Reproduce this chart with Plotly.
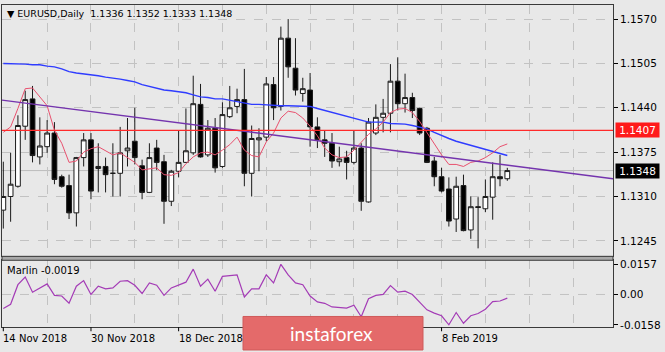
import plotly.graph_objects as go
from datetime import datetime

# ---------------- data ----------------
dates = [
    "2018-11-14", "2018-11-15", "2018-11-16", "2018-11-19", "2018-11-20", "2018-11-21", "2018-11-22",
    "2018-11-23", "2018-11-26", "2018-11-27", "2018-11-28", "2018-11-29", "2018-11-30",
    "2018-12-03", "2018-12-04", "2018-12-05", "2018-12-06", "2018-12-07", "2018-12-10", "2018-12-11",
    "2018-12-12", "2018-12-13", "2018-12-14", "2018-12-17", "2018-12-18", "2018-12-19", "2018-12-20",
    "2018-12-21", "2018-12-24", "2018-12-26", "2018-12-27", "2018-12-28", "2018-12-31",
    "2019-01-02", "2019-01-03", "2019-01-04", "2019-01-07", "2019-01-08", "2019-01-09", "2019-01-10",
    "2019-01-11", "2019-01-14", "2019-01-15", "2019-01-16", "2019-01-17", "2019-01-18", "2019-01-21",
    "2019-01-22", "2019-01-23", "2019-01-24", "2019-01-25", "2019-01-28", "2019-01-29", "2019-01-30",
    "2019-01-31", "2019-02-01", "2019-02-04", "2019-02-05", "2019-02-06", "2019-02-07", "2019-02-08",
    "2019-02-11", "2019-02-12", "2019-02-13", "2019-02-14", "2019-02-15", "2019-02-18", "2019-02-19",
    "2019-02-20", "2019-02-21",
]

opens = [1.1290, 1.1310, 1.1325, 1.1413, 1.1453, 1.1368, 1.1383, 1.1403, 1.1339, 1.1326,
         1.1286, 1.1367, 1.1393, 1.1351, 1.1354, 1.1344, 1.1344, 1.1377, 1.1391, 1.1355,
         1.1316, 1.1381, 1.1361, 1.1303, 1.1347, 1.1360, 1.1374, 1.1445, 1.1371, 1.1410,
         1.1354, 1.1427, 1.1442, 1.1452, 1.1344, 1.1393, 1.1397, 1.1474, 1.1442, 1.1542,
         1.1498, 1.1461, 1.1466, 1.1412, 1.1393, 1.1388, 1.1361, 1.1367, 1.1360, 1.1381,
         1.1302, 1.1403, 1.1426, 1.1432, 1.1479, 1.1446, 1.1455, 1.1439, 1.1410, 1.1362,
         1.1339, 1.1321, 1.1277, 1.1326, 1.1261, 1.1295, 1.1292, 1.1309, 1.1339, 1.1336]
highs = [1.1361, 1.1374, 1.1429, 1.1465, 1.1472, 1.1426, 1.1422, 1.1419, 1.1342, 1.1342,
         1.1368, 1.1403, 1.1403, 1.1388, 1.1367, 1.1388, 1.1412, 1.1425, 1.1440, 1.1364,
         1.1388, 1.1393, 1.1371, 1.1349, 1.1407, 1.1439, 1.1487, 1.1475, 1.1422, 1.1425,
         1.1448, 1.1472, 1.1468, 1.1497, 1.1414, 1.1410, 1.1485, 1.1485, 1.1559, 1.1570,
         1.1542, 1.1484, 1.1491, 1.1426, 1.1407, 1.1403, 1.1383, 1.1377, 1.1407, 1.1388,
         1.1425, 1.1445, 1.1453, 1.1504, 1.1514, 1.1490, 1.1462, 1.1440, 1.1412, 1.1368,
         1.1352, 1.1338, 1.1339, 1.1342, 1.1310, 1.1309, 1.1335, 1.1360, 1.1371, 1.1352]
lows = [1.1263, 1.1273, 1.1323, 1.1393, 1.1360, 1.1357, 1.1374, 1.1328, 1.1323, 1.1277,
        1.1266, 1.1354, 1.1306, 1.1316, 1.1316, 1.1310, 1.1310, 1.1354, 1.1357, 1.1306,
        1.1315, 1.1349, 1.1270, 1.1296, 1.1338, 1.1359, 1.1371, 1.1367, 1.1368, 1.1345,
        1.1352, 1.1425, 1.1432, 1.1325, 1.1310, 1.1347, 1.1391, 1.1422, 1.1436, 1.1484,
        1.1458, 1.1449, 1.1383, 1.1381, 1.1368, 1.1352, 1.1354, 1.1335, 1.1357, 1.1289,
        1.1301, 1.1400, 1.1404, 1.1404, 1.1436, 1.1433, 1.1425, 1.1400, 1.1359, 1.1325,
        1.1316, 1.1266, 1.1258, 1.1259, 1.1248, 1.1234, 1.1287, 1.1276, 1.1325, 1.1333]
closes = [1.1310, 1.1328, 1.1414, 1.1452, 1.1370, 1.1384, 1.1403, 1.1335, 1.1325, 1.1286,
          1.1367, 1.1393, 1.1318, 1.1354, 1.1342, 1.1344, 1.1374, 1.1381, 1.1367, 1.1316,
          1.1367, 1.1360, 1.1303, 1.1347, 1.1360, 1.1377, 1.1446, 1.1368, 1.1410, 1.1352,
          1.1430, 1.1440, 1.1452, 1.1344, 1.1395, 1.1396, 1.1475, 1.1440, 1.1542, 1.1500,
          1.1466, 1.1468, 1.1412, 1.1393, 1.1388, 1.1362, 1.1365, 1.1360, 1.1381, 1.1303,
          1.1419, 1.1426, 1.1432, 1.1479, 1.1446, 1.1455, 1.1436, 1.1403, 1.1360, 1.1339,
          1.1318, 1.1274, 1.1325, 1.1260, 1.1295, 1.1294, 1.1310, 1.1339, 1.1336, 1.1348]

ma_slow = [1.1505, 1.1505, 1.1505, 1.1504, 1.1503, 1.1503, 1.1501, 1.1500, 1.1497, 1.1493,
           1.1491, 1.1490, 1.1488, 1.1487, 1.1485, 1.1484, 1.1482, 1.1480, 1.1478, 1.1474,
           1.1471, 1.1469, 1.1466, 1.1465, 1.1464, 1.1462, 1.1459, 1.1456, 1.1455, 1.1453,
           1.1453, 1.1451, 1.1449, 1.1448, 1.1445, 1.1445, 1.1444, 1.1443, 1.1443, 1.1443,
           1.1443, 1.1443, 1.1442, 1.1439, 1.1436, 1.1433, 1.1430, 1.1427, 1.1425, 1.1422,
           1.1419, 1.1419, 1.1419, 1.1417, 1.1417, 1.1416, 1.1414, 1.1412, 1.1409, 1.1404,
           1.1399, 1.1395, 1.1391, 1.1388, 1.1384, 1.1381, 1.1378, 1.1375, 1.1373, 1.1370]
ma_fast = [1.1404, 1.1412, 1.1439, 1.1468, 1.1469, 1.1456, 1.1443, 1.1407, 1.1388, 1.1360,
           1.1362, 1.1375, 1.1380, 1.1383, 1.1377, 1.1371, 1.1374, 1.1367, 1.1360, 1.1349,
           1.1351, 1.1352, 1.1342, 1.1341, 1.1345, 1.1358, 1.1368, 1.1374, 1.1375, 1.1371,
           1.1378, 1.1386, 1.1397, 1.1378, 1.1370, 1.1368, 1.1390, 1.1403, 1.1425, 1.1435,
           1.1433, 1.1425, 1.1413, 1.1399, 1.1381, 1.1371, 1.1367, 1.1368, 1.1378, 1.1390,
           1.1401, 1.1409, 1.1419, 1.1433, 1.1438, 1.1439, 1.1433, 1.1420, 1.1404, 1.1388,
           1.1371, 1.1357, 1.1357, 1.1354, 1.1360, 1.1362, 1.1367, 1.1374, 1.1383, 1.1387]
marlin = [-0.0073, -0.0051, 0.0051, 0.0091, 0.0012, 0.0034, 0.0055, -0.0005, -0.0008, -0.0046,
          0.0043, 0.0072, 0.0000, 0.0043, 0.0029, 0.0034, 0.0069, 0.0072, 0.0048, 0.0005,
          0.0060, 0.0048, -0.0005, 0.0034, 0.0048, 0.0064, 0.0132, 0.0043, 0.0080, 0.0017,
          0.0094, 0.0099, 0.0102, -0.0013, 0.0029, 0.0029, 0.0102, 0.0060, 0.0157, 0.0102,
          0.0060, 0.0051, -0.0008, -0.0039, -0.0046, -0.0065, -0.0068, -0.0071, -0.0056, -0.0116,
          -0.0022, -0.0005, 0.0000, 0.0046, 0.0012, 0.0017, 0.0000, -0.0039, -0.0080, -0.0097,
          -0.0111, -0.0158, -0.0094, -0.0150, -0.0111, -0.0099, -0.0077, -0.0037, -0.0034, -0.0019]

trend_idx = [0, 69]
trend_price = [1.1451, 1.1356]
level_price = 1.1407
price_ticks = [1.1245, 1.1310, 1.1375, 1.1440, 1.1505, 1.1570]
marlin_ticks = [0.0157, 0.0, -0.0158]
marlin_tick_text = ["0.0157", "0.00", "-0.0158"]
label_idx = [0, 12, 24, 60]
symbol = "EURUSD,Daily"
indicator_name = "Marlin"

# ---------------- layout helpers ----------------
W, H = 665, 352
def fx(p):
    return p / W
def fy(p):
    return 1 - p / H

n = len(dates)
idx = list(range(n))
x_range = [-0.18, 83.47]
y_range = [1.12223, 1.15907]
m_range = [-0.0171, 0.0178]

BG = "#e8e8e8"
GRID = "#c2c2c2"
BORDER = "#3a3a3a"
FONT = "DejaVu Sans"

fig = go.Figure()

fig.add_trace(go.Candlestick(
    x=idx, open=opens, high=highs, low=lows, close=closes,
    increasing=dict(line=dict(color="#1a1a1a", width=1), fillcolor="#ffffff"),
    decreasing=dict(line=dict(color="#1a1a1a", width=1), fillcolor="#000000"),
    whiskerwidth=0, xaxis="x", yaxis="y", hoverinfo="skip", showlegend=False))

fig.add_trace(go.Scatter(x=idx, y=ma_slow, mode="lines", line=dict(color="#2f3cff", width=1.4),
                         xaxis="x", yaxis="y", hoverinfo="skip"))
fig.add_trace(go.Scatter(x=idx, y=ma_fast, mode="lines", line=dict(color="#e8506e", width=1),
                         xaxis="x", yaxis="y", hoverinfo="skip"))

slope = (trend_price[1] - trend_price[0]) / (trend_idx[1] - trend_idx[0])
tx = [x_range[0], x_range[1]]
ty = [trend_price[0] + slope * (v - trend_idx[0]) for v in tx]
fig.add_trace(go.Scatter(x=tx, y=ty, mode="lines", line=dict(color="#7434ae", width=1.4),
                         xaxis="x", yaxis="y", hoverinfo="skip"))
fig.add_trace(go.Scatter(x=tx, y=[level_price, level_price], mode="lines",
                         line=dict(color="#ff2a2a", width=1.2), xaxis="x", yaxis="y", hoverinfo="skip"))

fig.add_trace(go.Scatter(x=idx, y=marlin, mode="lines", line=dict(color="#a43cb6", width=1.2),
                         xaxis="x2", yaxis="y2", hoverinfo="skip"))

grid_vals = list(range(6, 84, 6))
axis_common = dict(showline=True, mirror=True, linecolor=BORDER, linewidth=1, zeroline=False)

fig.update_layout(
    width=W, height=H, margin=dict(l=0, r=0, t=0, b=0),
    paper_bgcolor=BG, plot_bgcolor=BG, showlegend=False,
    font=dict(family=FONT, size=10, color="#000000"),
    boxgap=0.35, boxgroupgap=0,
    xaxis=dict(domain=[fx(2), fx(613)], range=x_range, anchor="y", tickmode="array",
               tickvals=grid_vals, showticklabels=False, ticks="", showgrid=True,
               gridcolor=GRID, griddash="dash", gridwidth=1, rangeslider=dict(visible=False),
               **axis_common),
    yaxis=dict(domain=[fy(258), fy(3)], range=y_range, anchor="x", side="right",
               tickmode="array", tickvals=price_ticks, tickformat=".4f", ticks="outside",
               ticklen=4, tickcolor="#000000", showgrid=True, gridcolor=GRID, griddash="dash",
               tickfont=dict(family=FONT, size=10.5, color="#000000"), **axis_common),
    xaxis2=dict(domain=[fx(2), fx(613)], range=x_range, anchor="y2", matches="x",
                tickmode="array", tickvals=grid_vals, showticklabels=False, ticks="",
                showgrid=True, gridcolor=GRID, griddash="dash", **axis_common),
    yaxis2=dict(domain=[fy(330), fy(262)], range=m_range, anchor="x2", side="right",
                tickmode="array", tickvals=marlin_ticks, ticktext=marlin_tick_text,
                ticks="outside", ticklen=4, tickcolor="#000000", showgrid=False,
                tickfont=dict(family=FONT, size=10.5, color="#000000"), **axis_common),
)

shapes = []
# bid line
shapes.append(dict(type="line", xref="x domain", x0=0, x1=1, yref="y", y0=closes[-1], y1=closes[-1],
                   line=dict(color="#bcbcbc", width=1), layer="below"))
# zero level in indicator window
shapes.append(dict(type="line", xref="x2 domain", x0=0, x1=1, yref="y2", y0=0, y1=0,
                   line=dict(color=GRID, width=1, dash="dash"), layer="below"))
# separator between windows
shapes.append(dict(type="rect", xref="paper", x0=fx(2), x1=fx(613), yref="paper", y0=fy(262), y1=fy(258),
                   fillcolor="#a9a9a9", line=dict(color=BORDER, width=1), layer="above"))
# date tick marks
for i in label_idx:
    shapes.append(dict(type="line", xref="x2", x0=i, x1=i, yref="paper", y0=fy(330), y1=fy(334),
                       line=dict(color="#000000", width=1)))
# logo box
shapes.append(dict(type="rect", xref="paper", yref="paper", x0=fx(243), x1=fx(423), y0=fy(353), y1=fy(319),
                   fillcolor="#e46a6a", line=dict(color="#cf5a5a", width=1), layer="above"))
fig.update_layout(shapes=shapes)

ann = []
ann.append(dict(xref="paper", yref="paper", x=fx(5), y=fy(12), xanchor="left", yanchor="middle",
                showarrow=False,
                text="\u25bc " + symbol + "  " + " ".join(f"{v:.4f}" for v in
                                                          (opens[-1], highs[-1], lows[-1], closes[-1])),
                font=dict(family=FONT, size=9.5, color="#000000")))
ann.append(dict(xref="paper", yref="paper", x=fx(5), y=fy(272), xanchor="left", yanchor="middle",
                showarrow=False, text=f"{indicator_name} {marlin[-1]:.4f}",
                font=dict(family=FONT, size=10, color="#000000")))
for price, bg in ((level_price, "#ff1a1a"), (closes[-1], "#000000")):
    ann.append(dict(xref="paper", yref="y", x=fx(615), y=price, xanchor="left", yanchor="middle",
                    showarrow=False, text=f"{price:.4f}", bgcolor=bg, width=41, height=12, borderpad=1,
                    font=dict(family=FONT, size=10.5, color="#ffffff")))
for i in label_idx:
    d = datetime.strptime(dates[i], "%Y-%m-%d")
    ann.append(dict(xref="x2", yref="paper", x=i, y=fy(341), xanchor="left", yanchor="middle",
                    xshift=-2, showarrow=False, text=f"{d.day} {d.strftime('%b %Y')}",
                    font=dict(family=FONT, size=10, color="#000000")))
ann.append(dict(xref="paper", yref="paper", x=fx(331), y=fy(336), xanchor="center", yanchor="middle",
                showarrow=False, text="instaforex", font=dict(family="Lato", size=19, color="#ffffff")))
fig.update_layout(annotations=ann)

fig.write_html("out.html")
